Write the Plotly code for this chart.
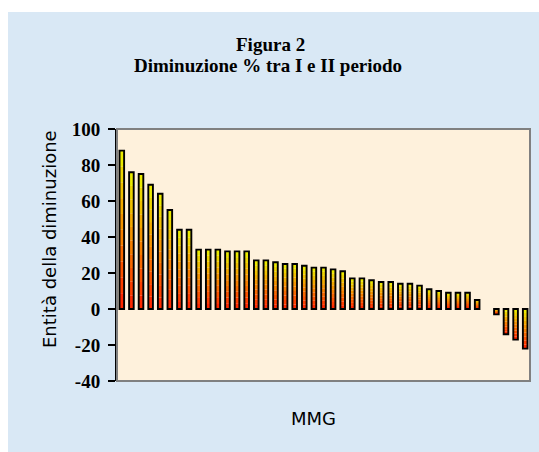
import plotly.graph_objects as go

# ---- data ----
mmg = list(range(1, 44))
diminuzione = [88, 76, 75, 69, 64, 55, 44, 44, 33, 33,
               33, 32, 32, 32, 27, 27, 26, 25, 25, 24,
               23, 23, 22, 21, 17, 17, 16, 15, 15, 14,
               14, 13, 11, 10, 9, 9, 9, 5, None, -3,
               -14, -17, -22]
y_ticks = [-40, -20, 0, 20, 40, 60, 80, 100]
y_tick_labels = ["-40", "-20", "0", "20", "40", "60", "80", "100"]

title_line1 = "Figura 2"
title_line2 = "Diminuzione % tra I e II periodo"
y_title = "Entità della diminuzione"
x_title = "MMG"

# ---- layout geometry (page pixels) ----
W, H = 539, 452
L, R, T, B = 117, 530, 129, 381
pw, ph = R - L, B - T


def px_x(x):
    return (x - L) / pw


def px_y(y):
    return (B - y) / ph


fig = go.Figure()

# gradient fill: stacked slices from top (yellow) to bottom (red)
N = 10
top_col = (235, 235, 0)
bot_col = (255, 40, 0)
for k in range(N):
    t = k / (N - 1)
    c = tuple(int(round(top_col[i] + (bot_col[i] - top_col[i]) * t)) for i in range(3))
    bases, hs = [], []
    for v in diminuzione:
        if v is None:
            bases.append(None)
            hs.append(None)
            continue
        top = max(v, 0)
        h = abs(v) / N
        bases.append(top - (k + 1) * h)
        hs.append(h)
    fig.add_trace(go.Bar(x=mmg, y=hs, base=bases, width=0.48,
                         marker=dict(color="rgb(%d,%d,%d)" % c, line=dict(width=0)),
                         hoverinfo="skip", showlegend=False))

# outline
fig.add_trace(go.Bar(x=mmg, y=diminuzione, width=0.48,
                     marker=dict(color="rgba(0,0,0,0)", line=dict(color="black", width=1.9)),
                     showlegend=False))

shapes = [
    # light-blue page background
    dict(type="rect", xref="paper", yref="paper",
         x0=px_x(8), x1=px_x(545), y0=px_y(460), y1=px_y(12),
         fillcolor="#d9e8f5", line=dict(width=0), layer="below"),
    # plot area
    dict(type="rect", xref="paper", yref="paper", x0=0, x1=1, y0=0, y1=1,
         fillcolor="#fef1dc", line=dict(width=0), layer="below"),
    # plot area border (gray)
    dict(type="rect", xref="paper", yref="paper", x0=0, x1=1, y0=0, y1=1,
         line=dict(color="#808080", width=2), layer="above"),
]

common = dict(xref="paper", yref="paper", showarrow=False, xanchor="center", yanchor="middle")
annotations = [
    dict(text="<b>%s</b>" % title_line1, x=px_x(270), y=px_y(44),
         font=dict(family="Liberation Serif", size=19, color="black"), **common),
    dict(text="<b>%s</b>" % title_line2, x=px_x(268), y=px_y(65),
         font=dict(family="Liberation Serif", size=19, color="black"), **common),
    dict(text=y_title, x=px_x(49), y=px_y(239), textangle=-90,
         font=dict(family="DejaVu Sans", size=18, color="black"), **common),
    dict(text=x_title, x=px_x(313), y=px_y(418),
         font=dict(family="DejaVu Sans", size=18, color="black"), **common),
]

fig.update_layout(
    width=W, height=H,
    margin=dict(l=L, r=W - R, t=T, b=H - B, pad=0),
    paper_bgcolor="white", plot_bgcolor="rgba(0,0,0,0)",
    barmode="overlay",
    shapes=shapes, annotations=annotations,
    xaxis=dict(range=[0.5, 43.5], showticklabels=False, showgrid=False, zeroline=False,
               showline=False, ticks=""),
    yaxis=dict(range=[-40, 100], tickvals=y_ticks, ticktext=y_tick_labels,
               showgrid=False, zeroline=False,
               showline=True, linecolor="black", linewidth=2, ticks="outside",
               ticklen=7, tickwidth=2, tickcolor="black", ticklabelstandoff=4,
               tickfont=dict(family="Liberation Serif", size=19, color="black",
                             weight="bold")),
)

fig.write_html(
    "out.html",
    config={"displayModeBar": False},
    post_script="document.body.style.margin='0';document.body.style.overflow='hidden';",
)
